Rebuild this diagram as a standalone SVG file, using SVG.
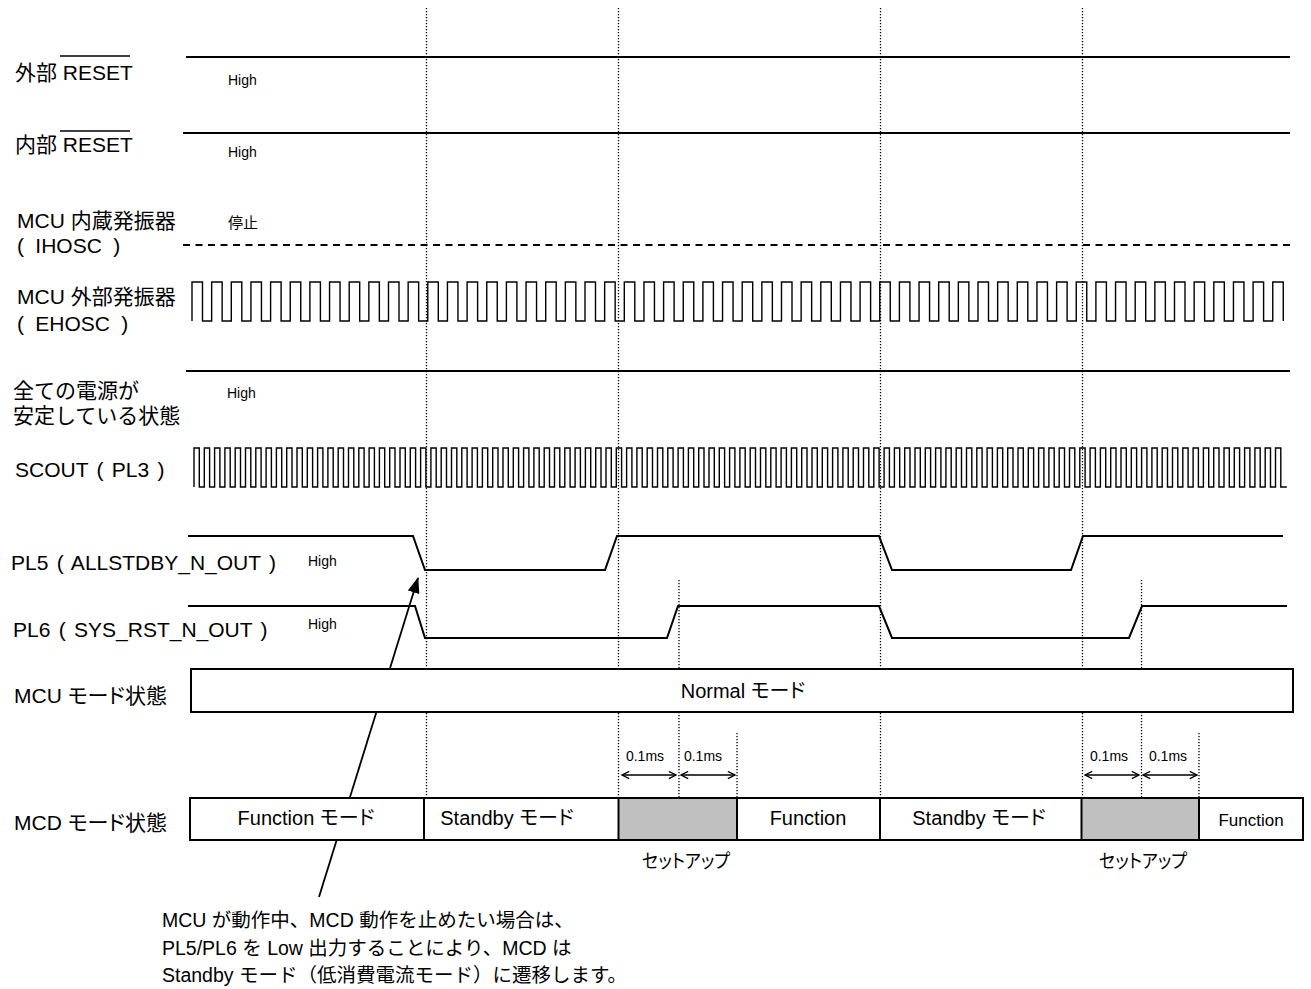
<svg xmlns="http://www.w3.org/2000/svg" width="1311" height="989" viewBox="0 0 1311 989">
<style>
text{font-family:"Liberation Sans","Noto Sans CJK JP",sans-serif;font-size:20px;fill:#000}
.lb{font-size:21px}
.p{font-feature-settings:"palt"}
.ws{word-spacing:2.5px}
.ws2{word-spacing:5.5px}
.sm{font-size:14px}
.mid{text-anchor:middle}
.ln{fill:none;stroke:#000;stroke-width:2}
.wv{fill:none;stroke:#000;stroke-width:1.4}
.dot{fill:none;stroke:#000;stroke-width:1.3;stroke-dasharray:1.3 1.7}
.box{fill:#fff;stroke:#000;stroke-width:2}
.gr{fill:#c0c0c0;stroke:#000;stroke-width:2}
.note{font-size:19.5px}
</style>
<defs>
<marker id="v" viewBox="0 0 10 10" refX="9" refY="5" markerWidth="9" markerHeight="9" markerUnits="userSpaceOnUse" orient="auto-start-reverse">
<path d="M1,1 L9,5 L1,9" fill="none" stroke="#000" stroke-width="1.4"/>
</marker>
<marker id="ah" viewBox="0 0 16 12" refX="15" refY="6" markerWidth="16" markerHeight="12" markerUnits="userSpaceOnUse" orient="auto">
<path d="M0,0 L16,6 L0,12 Z" fill="#000"/>
</marker>
</defs>

<g id="guides">
<line class="dot" x1="426.5" y1="8" x2="426.5" y2="798"/>
<line class="dot" x1="618.5" y1="8" x2="618.5" y2="798"/>
<line class="dot" x1="880.5" y1="8" x2="880.5" y2="798"/>
<line class="dot" x1="1082.5" y1="8" x2="1082.5" y2="798"/>
<line class="dot" x1="679" y1="580" x2="679" y2="798"/>
<line class="dot" x1="737" y1="733" x2="737" y2="798"/>
<line class="dot" x1="1141.5" y1="580" x2="1141.5" y2="798"/>
<line class="dot" x1="1199" y1="733" x2="1199" y2="798"/>
</g>

<g id="connectors">
<line x1="319" y1="897" x2="418" y2="578" stroke="#000" stroke-width="1.8" marker-end="url(#ah)"/>
<line x1="622" y1="775" x2="676" y2="775" stroke="#000" stroke-width="1.4" marker-start="url(#v)" marker-end="url(#v)"/>
<line x1="681" y1="775" x2="735" y2="775" stroke="#000" stroke-width="1.4" marker-start="url(#v)" marker-end="url(#v)"/>
<line x1="1085" y1="775" x2="1139" y2="775" stroke="#000" stroke-width="1.4" marker-start="url(#v)" marker-end="url(#v)"/>
<line x1="1143" y1="775" x2="1197" y2="775" stroke="#000" stroke-width="1.4" marker-start="url(#v)" marker-end="url(#v)"/>
<text class="sm mid" x="645" y="761">0.1ms</text>
<text class="sm mid" x="703" y="761">0.1ms</text>
<text class="sm mid" x="1109" y="761">0.1ms</text>
<text class="sm mid" x="1168" y="761">0.1ms</text>
</g>

<g id="labels">
<text class="lb" x="15" y="80">外部 RESET</text>
<line x1="60" y1="56" x2="130" y2="56" stroke="#000" stroke-width="1.5"/>
<text class="lb" x="15" y="152">内部 RESET</text>
<line x1="60" y1="131" x2="130" y2="131" stroke="#000" stroke-width="1.5"/>
<text class="lb" x="17" y="228">MCU 内蔵発振器</text>
<text class="lb ws2" x="17" y="253">( IHOSC )</text>
<text class="lb" x="17" y="304">MCU 外部発振器</text>
<text class="lb ws2" x="17" y="331">( EHOSC )</text>
<text class="lb" x="13" y="398">全ての電源が</text>
<text class="lb" x="13" y="423">安定している状態</text>
<text class="lb ws" x="15" y="477">SCOUT ( PL3 )</text>
<text class="lb ws" x="11" y="570">PL5 ( ALLSTDBY_N_OUT )</text>
<text class="lb ws" x="13" y="637">PL6 ( SYS_RST_N_OUT )</text>
<text class="lb p" x="14" y="703">MCU モード状態</text>
<text class="lb p" x="14" y="830">MCD モード状態</text>
</g>

<g id="sig-ext-reset">
<line class="ln" x1="186" y1="57" x2="1290" y2="57"/>
<text class="sm" x="228" y="85">High</text>
</g>
<g id="sig-int-reset">
<line class="ln" x1="183" y1="133" x2="1290" y2="133"/>
<text class="sm" x="228" y="157">High</text>
</g>
<g id="sig-ihosc">
<line class="ln" x1="183" y1="245" x2="1290" y2="245" stroke-dasharray="7 5.5"/>
<text x="228" y="228" style="font-size:15px">停止</text>
</g>
<g id="sig-ehosc">
<path class="wv" d="M192,321v-39h10.5v39h9.15v-39h10.5v39h9.15v-39h10.5v39h9.15v-39h10.5v39h9.15v-39h10.5v39h9.15v-39h10.5v39h9.15v-39h10.5v39h9.15v-39h10.5v39h9.15
v-39h10.5v39h9.15v-39h10.5v39h9.15v-39h10.5v39h9.15v-39h10.5v39h9.15v-39h10.5v39h9.15v-39h10.5v39h9.15v-39h10.5v39h9.15v-39h10.5v39h9.15
v-39h10.5v39h9.15v-39h10.5v39h9.15v-39h10.5v39h9.15v-39h10.5v39h9.15v-39h10.5v39h9.15v-39h10.5v39h9.15v-39h10.5v39h9.15v-39h10.5v39h9.15
v-39h10.5v39h9.15v-39h10.5v39h9.15v-39h10.5v39h9.15v-39h10.5v39h9.15v-39h10.5v39h9.15v-39h10.5v39h9.15v-39h10.5v39h9.15v-39h10.5v39h9.15
v-39h10.5v39h9.15v-39h10.5v39h9.15v-39h10.5v39h9.15v-39h10.5v39h9.15v-39h10.5v39h9.15v-39h10.5v39h9.15v-39h10.5v39h9.15v-39h10.5v39h9.15
v-39h10.5v39h9.15v-39h10.5v39h9.15v-39h10.5v39h9.15v-39h10.5v39h9.15v-39h10.5v39h9.15v-39h10.5v39h9.15v-39h10.5v39h9.15v-39h10.5v39h9.15
v-39h10.5v39h9.15v-39h10.5v39h9.15v-39h10.5v39h9.15v-39h10.5v39h9.15v-39h10.5v39h9.15v-39h10.5v39h9.15v-39h10.5v39h9.15v-39h10.5v39"/>
</g>
<g id="sig-power">
<line class="ln" x1="186" y1="371" x2="1290" y2="371"/>
<text class="sm" x="227" y="398">High</text>
</g>
<g id="sig-scout">
<path class="wv" d="M194,487v-39h5.3v39h5v-39h5.3v39h5v-39h5.3v39h5v-39h5.3v39h5v-39h5.3v39h5v-39h5.3v39h5v-39h5.3v39h5v-39h5.3v39h5v-39h5.3v39h5v-39h5.3v39h5
v-39h5.3v39h5v-39h5.3v39h5v-39h5.3v39h5v-39h5.3v39h5v-39h5.3v39h5v-39h5.3v39h5v-39h5.3v39h5v-39h5.3v39h5v-39h5.3v39h5v-39h5.3v39h5
v-39h5.3v39h5v-39h5.3v39h5v-39h5.3v39h5v-39h5.3v39h5v-39h5.3v39h5v-39h5.3v39h5v-39h5.3v39h5v-39h5.3v39h5v-39h5.3v39h5v-39h5.3v39h5
v-39h5.3v39h5v-39h5.3v39h5v-39h5.3v39h5v-39h5.3v39h5v-39h5.3v39h5v-39h5.3v39h5v-39h5.3v39h5v-39h5.3v39h5v-39h5.3v39h5v-39h5.3v39h5
v-39h5.3v39h5v-39h5.3v39h5v-39h5.3v39h5v-39h5.3v39h5v-39h5.3v39h5v-39h5.3v39h5v-39h5.3v39h5v-39h5.3v39h5v-39h5.3v39h5v-39h5.3v39h5
v-39h5.3v39h5v-39h5.3v39h5v-39h5.3v39h5v-39h5.3v39h5v-39h5.3v39h5v-39h5.3v39h5v-39h5.3v39h5v-39h5.3v39h5v-39h5.3v39h5v-39h5.3v39h5
v-39h5.3v39h5v-39h5.3v39h5v-39h5.3v39h5v-39h5.3v39h5v-39h5.3v39h5v-39h5.3v39h5v-39h5.3v39h5v-39h5.3v39h5v-39h5.3v39h5v-39h5.3v39h5
v-39h5.3v39h5v-39h5.3v39h5v-39h5.3v39h5v-39h5.3v39h5v-39h5.3v39h5v-39h5.3v39h5v-39h5.3v39h5v-39h5.3v39h5v-39h5.3v39h5v-39h5.3v39h5
v-39h5.3v39h5v-39h5.3v39h5v-39h5.3v39h5v-39h5.3v39h5v-39h5.3v39h5v-39h5.3v39h5v-39h5.3v39h5v-39h5.3v39h5v-39h5.3v39h5v-39h5.3v39h5
v-39h5.3v39h5v-39h5.3v39h5v-39h5.3v39h5v-39h5.3v39h5v-39h5.3v39h5v-39h5.3v39h5v-39h5.3v39h5v-39h5.3v39h5v-39h5.3v39h5v-39h5.3v39h5
v-39h5.3v39h5v-39h5.3v39h5v-39h5.3v39h5v-39h5.3v39h5v-39h5.3v39h5v-39h5.3v39h6"/>
</g>
<g id="sig-pl5">
<path class="ln" d="M188,536H413L425,570H605L617,536H879L892,570H1071L1083,536H1283"/>
<text class="sm" x="308" y="566">High</text>
</g>
<g id="sig-pl6">
<path class="ln" d="M188,606H415L425,638H667L678,606H879L892,638H1129L1142,606H1287"/>
<text class="sm" x="308" y="629">High</text>
</g>

<g id="mcu-mode">
<rect class="box" x="191" y="669" width="1102" height="43"/>
<text class="mid p" x="743" y="698">Normal モード</text>
</g>

<g id="mcd-mode">
<rect class="box" x="190" y="798" width="1113" height="42"/>
<rect class="gr" x="618.5" y="798" width="118.5" height="42"/>
<rect class="gr" x="1081.5" y="798" width="117.5" height="42"/>
<line class="ln" x1="424" y1="798" x2="424" y2="840"/>
<line class="ln" x1="880" y1="798" x2="880" y2="840"/>
<text class="mid p" x="306" y="825">Function モード</text>
<text class="mid p" x="507" y="825">Standby モード</text>
<text class="mid" x="808" y="825">Function</text>
<text class="mid p" x="979" y="825">Standby モード</text>
<text class="mid" x="1251" y="826" style="font-size:17px">Function</text>
<text class="mid p" x="686" y="868" textLength="88" lengthAdjust="spacingAndGlyphs" style="font-size:19px">セットアップ</text>
<text class="mid p" x="1143" y="868" textLength="88" lengthAdjust="spacingAndGlyphs" style="font-size:19px">セットアップ</text>
</g>

<g id="note">
<text class="note" x="162" y="927">MCU が動作中、MCD 動作を止めたい場合は、</text>
<text class="note" x="162" y="955">PL5/PL6 を Low 出力することにより、MCD は</text>
<text class="note" x="162" y="982">Standby モード（低消費電流モード）に遷移します。</text>
</g>
</svg>
